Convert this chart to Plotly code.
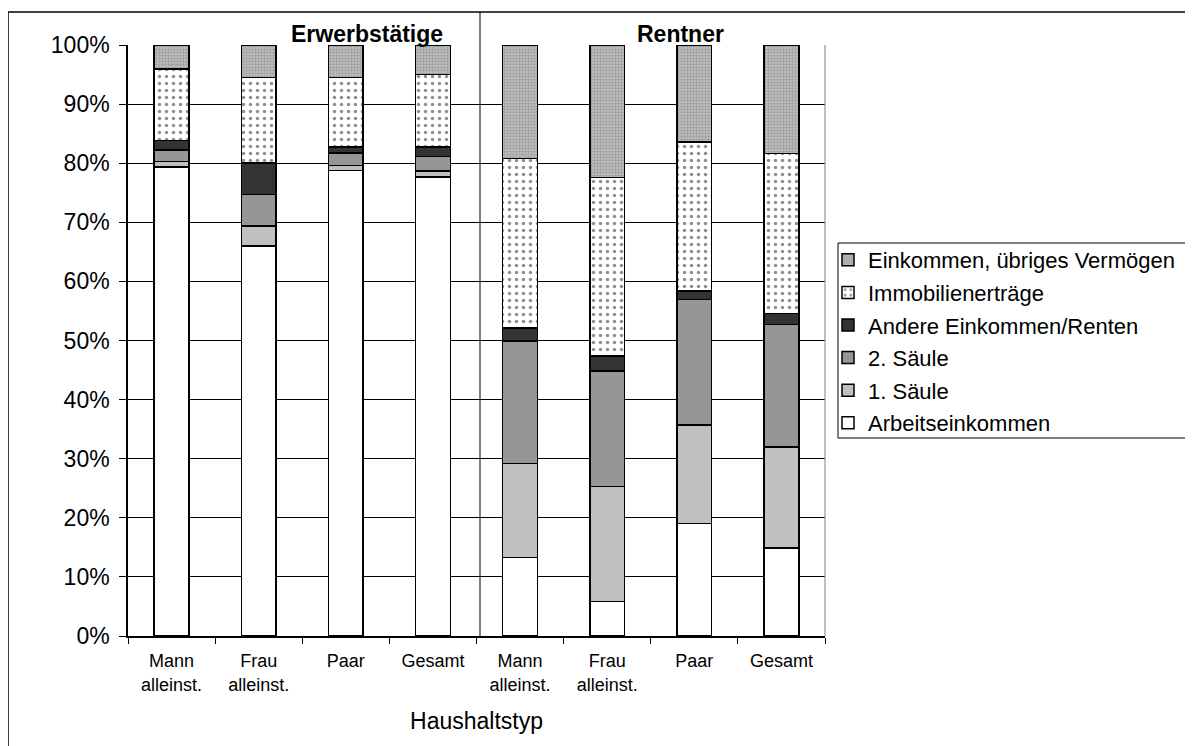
import plotly.graph_objects as go

# ---- data ----
categories = ["E_Mann", "E_Frau", "E_Paar", "E_Gesamt", "R_Mann", "R_Frau", "R_Paar", "R_Gesamt"]
tick_labels = ["Mann<br>alleinst.", "Frau<br>alleinst.", "Paar", "Gesamt",
               "Mann<br>alleinst.", "Frau<br>alleinst.", "Paar", "Gesamt"]
group_labels = ["Erwerbstätige", "Rentner"]

arbeitseinkommen = [79.4, 66.0, 78.8, 77.7, 13.3, 5.8, 19.0, 14.9]
saeule1 = [0.9, 3.4, 0.8, 1.0, 15.9, 19.5, 16.7, 17.1]
saeule2 = [1.9, 5.3, 2.1, 2.4, 20.7, 19.5, 21.2, 20.7]
andere = [1.6, 5.3, 1.0, 1.6, 2.2, 2.6, 1.5, 1.9]
immobilien = [12.1, 14.5, 11.8, 12.3, 28.7, 30.2, 25.2, 27.0]
uebriges = [4.1, 5.5, 5.5, 5.0, 19.2, 22.4, 16.4, 18.4]

series_names = ["Arbeitseinkommen", "1. Säule", "2. Säule", "Andere Einkommen/Renten",
                "Immobilienerträge", "Einkommen, übriges Vermögen"]
series_values = [arbeitseinkommen, saeule1, saeule2, andere, immobilien, uebriges]

FONT = "Liberation Sans, Arial, sans-serif"

styles = [
    dict(color="#ffffff"),
    dict(color="#c0c0c0"),
    dict(color="#969696"),
    dict(color="#333333"),
    dict(color="#ffffff", pattern=dict(shape=".", fgcolor="#222222", bgcolor="#ffffff",
                                       size=7, solidity=0.2, fillmode="overlay")),
    dict(color="#c0c0c0", pattern=dict(shape=".", fgcolor="#777777", bgcolor="#c4c4c4",
                                       size=3, solidity=0.5, fillmode="overlay")),
]

fig = go.Figure()
n = len(series_names)
for i, (name, vals, st) in enumerate(zip(series_names, series_values, styles)):
    marker = dict(color=st["color"], line=dict(color="#000000", width=1.5))
    if "pattern" in st:
        marker["pattern"] = st["pattern"]
    fig.add_trace(go.Bar(
        x=categories, y=[v / 100 for v in vals], name=name,
        marker=marker, width=0.4, legendgroup="g%d" % i, legendrank=n - i,
    ))

# page offset (body margin) of 8px
OFF = 8
L, R, T, B = 128 - OFF, 825 - OFF, 45 - OFF, 636 - OFF
W, H = 1193, 746

def px_x(p):
    return (p - OFF - L) / (R - L)

def px_y(p):
    return (B - (p - OFF)) / (B - T)

shapes = [
    # outer frame (left & top visible)
    dict(type="line", xref="paper", yref="paper", x0=px_x(8), x1=px_x(8), y0=px_y(12), y1=px_y(800),
         line=dict(color="#000000", width=1.5)),
    dict(type="line", xref="paper", yref="paper", x0=px_x(8), x1=px_x(1300), y0=px_y(12), y1=px_y(12),
         line=dict(color="#000000", width=1.5)),
    # divider between groups
    dict(type="line", xref="paper", yref="paper", x0=px_x(480), x1=px_x(480), y0=px_y(12), y1=0,
         line=dict(color="#000000", width=1)),
    # plot area right border
    dict(type="line", xref="paper", yref="paper", x0=1, x1=1, y0=0, y1=1,
         line=dict(color="#808080", width=1)),
    # legend box
    dict(type="rect", xref="paper", yref="paper", x0=px_x(838), x1=px_x(1300),
         y0=px_y(438), y1=px_y(243), line=dict(color="#000000", width=1),
         fillcolor="rgba(0,0,0,0)", layer="above"),
]

annotations = [
    dict(text="<b>" + group_labels[0] + "</b>", xref="paper", yref="paper",
         x=px_x(367), y=px_y(34), showarrow=False, xanchor="center", yanchor="middle",
         font=dict(family=FONT, size=23, color="#000000")),
    dict(text="<b>" + group_labels[1] + "</b>", xref="paper", yref="paper",
         x=px_x(680), y=px_y(34), showarrow=False, xanchor="center", yanchor="middle",
         font=dict(family=FONT, size=23, color="#000000")),
]

fig.update_layout(
    width=W, height=H,
    margin=dict(l=L, r=W - R, t=T, b=H - B, autoexpand=False),
    barmode="stack",
    plot_bgcolor="#ffffff", paper_bgcolor="#ffffff",
    font=dict(family=FONT, color="#000000"),
    shapes=shapes, annotations=annotations,
    legend=dict(
        x=px_x(828), y=px_y(239), xanchor="left", yanchor="top",
        traceorder="grouped",
        font=dict(family=FONT, size=22, color="#000000"),
        borderwidth=0, bgcolor="rgba(0,0,0,0)",
        itemwidth=30, tracegroupgap=1,
    ),
    xaxis=dict(
        type="category", categoryorder="array", categoryarray=categories,
        tickmode="array", tickvals=categories, ticktext=tick_labels,
        tickson="boundaries", ticks="outside", ticklen=6, tickcolor="#000000",
        ticklabelstandoff=8,
        showline=True, linecolor="#000000", linewidth=1.5,
        showgrid=False, automargin=False,
        tickfont=dict(family=FONT, size=18, color="#000000"),
        title=dict(text="Haushaltstyp", font=dict(family=FONT, size=23, color="#000000"), standoff=19),
    ),
    yaxis=dict(
        range=[0, 1], tickformat=".0%", dtick=0.1, tick0=0,
        ticks="outside", ticklen=7, tickcolor="#000000",
        ticklabelstandoff=5,
        showline=True, linecolor="#000000", linewidth=1.5,
        showgrid=True, gridcolor="#000000", gridwidth=1,
        zeroline=False, automargin=False,
        tickfont=dict(family=FONT, size=23, color="#000000"),
    ),
)

fig.write_html("out.html")
